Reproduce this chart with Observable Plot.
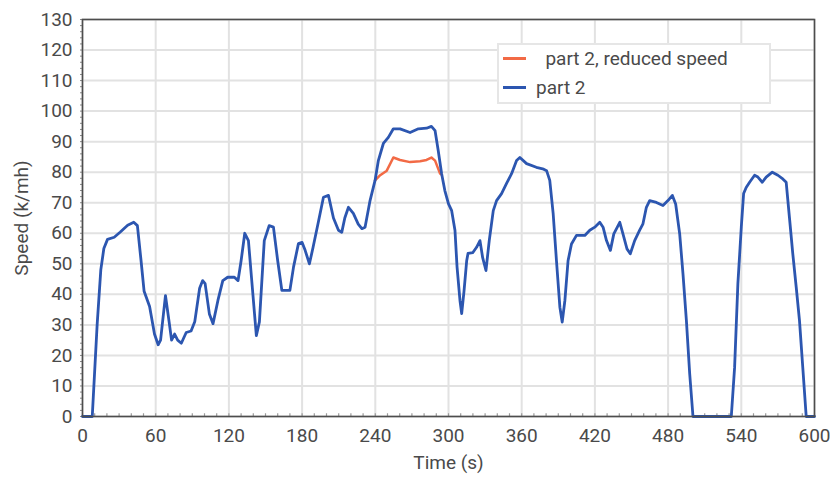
<!DOCTYPE html>
<html>
<head>
<meta charset="utf-8">
<script src="https://cdn.jsdelivr.net/npm/d3@7"></script>
<script src="https://cdn.jsdelivr.net/npm/@observablehq/plot@0.6"></script>
<style>
  html, body { margin: 0; padding: 0; background: #fff; }
  #wrap { position: relative; width: 830px; height: 479px; font-family: Roboto, "Noto Sans", sans-serif; }
  #legend { position: absolute; left: 497px; top: 43px; width: 270px; height: 57px; background: #fff;
            border: 2px solid #e6e6e6; color: #4a4a4a; font-size: 19px; }
  .row { position: absolute; left: 0; height: 24px; display: flex; align-items: center; }
  .sw { display: inline-block; width: 23px; height: 3px; margin-left: 4px; }
</style>
</head>
<body>
<div id="wrap"></div>
<script>
// Main series: "part 2"
const time = [0, 8, 12, 15, 17.5, 20.5, 26, 31, 37, 42, 45, 48, 50.5, 55, 59, 62, 64, 68, 71, 73, 75.5, 78, 81, 85, 89, 92, 96, 98.5, 100.5, 104, 107, 111, 115, 119, 124.5, 127.5, 130, 133, 136, 138.5, 141, 142.5, 145, 149, 153, 156.5, 160, 163.4, 170, 173, 177, 180, 182.5, 186, 189, 193.5, 197.5, 201.6, 205.7, 209.8, 212.5, 215, 218, 222, 226, 229, 231.6, 235.7, 239.8, 242.5, 246.6, 250.7, 254.8, 260.3, 268.5, 275.3, 282, 286, 289, 291.6, 294.4, 297, 300, 302.6, 305.3, 307, 309.4, 310.8, 312.7, 314.9, 316, 320, 323, 325.8, 328, 330.7, 333.4, 336.7, 339.4, 343.5, 347.6, 351.7, 355.8, 358.5, 364, 372, 378, 380.4, 383, 385.8, 388.5, 391.3, 393.2, 395.4, 398, 400.8, 404.9, 411.7, 415.8, 419.9, 424, 426.7, 429.5, 432.7, 435.5, 440.4, 443, 446.3, 449, 452.6, 456.7, 459.4, 462.2, 464.9, 470.4, 475.8, 479.9, 483.5, 486.2, 489.5, 492.2, 495, 497.7, 500.4, 531.8, 534.5, 537.2, 540, 541.9, 544, 546.8, 550.9, 553.6, 557.2, 560.4, 565.4, 570, 574, 576.8, 579.5, 582.2, 585, 587.7, 590.4, 593.2, 600];
const speed = [0, 0, 30, 48, 55, 58, 58.7, 60.4, 62.6, 63.6, 62.5, 51, 41, 36, 27, 23.5, 25, 39.6, 31, 25, 27, 25, 24, 27.5, 28, 31, 42, 44.5, 43.5, 33.6, 30.4, 38, 44.5, 45.6, 45.6, 44.5, 51, 60, 57.6, 45.6, 33.6, 26.5, 31, 57.6, 62.5, 62, 51, 41.3, 41.3, 49, 56.6, 57, 54.4, 50, 55.4, 64, 71.8, 72.4, 65, 61, 60.3, 65, 68.5, 66.5, 63, 61.5, 62, 70.7, 77.3, 83.8, 89.4, 91.4, 94.2, 94.2, 93, 94.2, 94.4, 95, 93.6, 87, 79.4, 74, 69.6, 67.4, 61, 49, 38, 33.7, 41, 51, 53.4, 53.7, 55.4, 57.6, 52, 47.8, 57.6, 67.4, 70.7, 73, 76.3, 79.5, 83.8, 84.8, 82.8, 81.6, 81, 80.5, 77.3, 66.4, 51, 35.8, 30.9, 38, 51, 56.5, 59.3, 59.3, 61, 62, 63.6, 62, 57.6, 54.4, 59.8, 63.6, 59.8, 54.9, 53.3, 57.6, 61, 63.1, 68.5, 70.7, 70.1, 69.1, 70.7, 72.4, 69.6, 59.8, 46.7, 31.4, 14, 0, 0, 16, 43.5, 62, 73, 75, 76.7, 79, 78.4, 76.7, 78.4, 80, 79, 77.8, 76.7, 65, 53.3, 42.4, 31.4, 16, 0, 0];

// Reduced-speed segment: "part 2, reduced speed"
const timeReduced = [239.8, 244, 249.4, 254.8, 260.3, 268.5, 276.7, 282, 286, 289, 293, 294.4];
const speedReduced = [77.3, 79, 80.5, 84.8, 84, 83.3, 83.6, 84, 84.8, 83.8, 79.6, 79.2];

const xTicks = [0, 60, 120, 180, 240, 300, 360, 420, 480, 540, 600];
const yTicks = [0, 10, 20, 30, 40, 50, 60, 70, 80, 90, 100, 110, 120, 130];
const xMinor = d3.range(0, 601, 10);
const yMinor = d3.range(0, 131, 2);

const legendLabels = ["  part 2, reduced speed", "part 2"];
const colors = ["#f26a45", "#2c56b0"];

const blue = time.map((t, i) => ({t, v: speed[i]}));
const red = timeReduced.map((t, i) => ({t, v: speedReduced[i]}));

const chart = Plot.plot({
  width: 830,
  height: 479,
  marginLeft: 82,
  marginRight: 16,
  marginTop: 19,
  marginBottom: 63,
  style: {fontFamily: "Roboto, 'Noto Sans', sans-serif", fontSize: "19px", color: "#4a4a4a", background: "#fff"},
  x: {domain: [0, 600]},
  y: {domain: [0, 130]},
  marks: [
    Plot.gridX(xTicks, {stroke: "#e2e2e2", strokeOpacity: 1, strokeWidth: 2}),
    Plot.gridY(yTicks, {stroke: "#e2e2e2", strokeOpacity: 1, strokeWidth: 2}),
    Plot.ruleX(xMinor, {x: d => d, y1: 0, y2: 0.9, stroke: "#9a9a9a", strokeWidth: 1.2}),
    Plot.axisY(yMinor, {tickSize: 2, text: null, label: null, stroke: "#888"}),
    Plot.axisX(xTicks, {tickSize: 0, tickPadding: 12, label: "Time (s)", labelAnchor: "center", labelArrow: "none", labelOffset: 52}),
    Plot.axisY(yTicks, {tickSize: 0, tickPadding: 10, label: "Speed (k/mh)", labelAnchor: "center", labelArrow: "none", labelOffset: 68}),
    Plot.line(red, {x: "t", y: "v", stroke: colors[0], strokeWidth: 2.5, curve: "linear"}),
    Plot.line(blue, {x: "t", y: "v", stroke: colors[1], strokeWidth: 2.8, curve: "linear"}),
    Plot.frame({stroke: "#4d4d4d", strokeWidth: 1.6})
  ]
});

const wrap = document.getElementById("wrap");
wrap.appendChild(chart);

const legend = document.createElement("div");
legend.id = "legend";
legendLabels.forEach((lab, i) => {
  const row = document.createElement("div");
  row.className = "row";
  row.style.top = (i === 0 ? 1 : 30) + "px";
  const sw = document.createElement("span");
  sw.className = "sw";
  sw.style.background = colors[i];
  const tx = document.createElement("span");
  tx.style.marginLeft = "10px";
  tx.style.whiteSpace = "pre";
  tx.textContent = lab;
  row.appendChild(sw);
  row.appendChild(tx);
  legend.appendChild(row);
});
wrap.appendChild(legend);
</script>
</body>
</html>
